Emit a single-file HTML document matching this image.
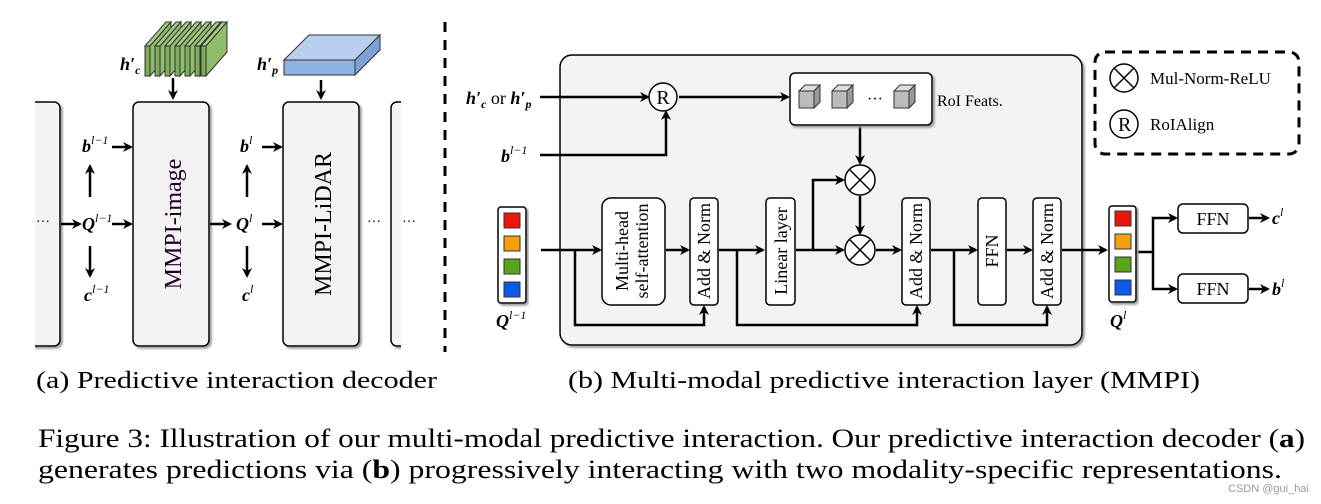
<!DOCTYPE html>
<html><head><meta charset="utf-8"><style>
html,body{margin:0;padding:0;background:#fff;}
svg{display:block;font-family:"Liberation Serif",serif;}
.b{font-weight:bold;font-style:italic;}
</style></head><body>
<svg width="1321" height="504" viewBox="0 0 1321 504" xmlns="http://www.w3.org/2000/svg">
<defs>
<marker id="a" markerWidth="10" markerHeight="10" refX="8" refY="5" orient="auto" markerUnits="userSpaceOnUse">
<path d="M0,0 L10,5 L0,10 L3,5 z" fill="#000"/></marker>
<filter id="sh"><feDropShadow dx="2" dy="2" stdDeviation="1" flood-color="#999"/></filter>
</defs>
<g stroke="#000" stroke-width="2.5" fill="none">
<rect x="20" y="102" width="40" height="244" rx="6" fill="#f3f3f3" stroke-width="1.5" filter="url(#sh)"/>
<rect x="133" y="102" width="76" height="244" rx="6" fill="#f3f3f3" stroke-width="1.5" filter="url(#sh)"/>
<rect x="283" y="102" width="76" height="244" rx="6" fill="#f3f3f3" stroke-width="1.5" filter="url(#sh)"/>
<rect x="391" y="102" width="40" height="244" rx="6" fill="#f3f3f3" stroke-width="1.5" filter="url(#sh)"/>
<rect x="0" y="95" width="35" height="260" fill="#fff" stroke="none"/>
<rect x="401" y="95" width="40" height="260" fill="#fff" stroke="none"/>
<line x1="61" y1="224" x2="80" y2="224" marker-end="url(#a)"/>
<line x1="112" y1="224" x2="131" y2="224" marker-end="url(#a)"/>
<line x1="112" y1="147" x2="131" y2="147" marker-end="url(#a)"/>
<line x1="90" y1="197" x2="90" y2="166" marker-end="url(#a)"/>
<line x1="90" y1="246" x2="90" y2="276" marker-end="url(#a)"/>
<line x1="210" y1="224" x2="230" y2="224" marker-end="url(#a)"/>
<line x1="262" y1="224" x2="281" y2="224" marker-end="url(#a)"/>
<line x1="262" y1="147" x2="281" y2="147" marker-end="url(#a)"/>
<line x1="247" y1="197" x2="247" y2="166" marker-end="url(#a)"/>
<line x1="247" y1="246" x2="247" y2="276" marker-end="url(#a)"/>
<line x1="173" y1="78" x2="173" y2="98" marker-end="url(#a)"/>
<line x1="321" y1="80" x2="321" y2="98" marker-end="url(#a)"/>
</g>
<g stroke="#333" stroke-width="1" fill="#7fae5a">
<g id="sl"><polygon points="145,46 166,22 171,22 150,46" fill="#a6cf85"/><rect x="145" y="46" width="5" height="30"/><polygon points="150,46 171,22 171,52 150,76" fill="#8fbd6b"/></g>
<use href="#sl" x="10"/><use href="#sl" x="20"/><use href="#sl" x="30"/><use href="#sl" x="40"/><use href="#sl" x="50"/><use href="#sl" x="56"/>
</g>
<g stroke="#333" stroke-width="1">
<polygon points="284,60 309,35 380,35 355,60" fill="#b9cfee"/>
<rect x="284" y="60" width="71" height="15" fill="#8fb2e3"/>
<polygon points="355,60 380,35 380,50 355,75" fill="#7aa0d6"/>
</g>
<g font-size="18">
<text x="120" y="70" class="b">h′<tspan font-size="12" dy="4">c</tspan></text>
<text x="257" y="70" class="b">h′<tspan font-size="12" dy="4">p</tspan></text>
<text x="82" y="152" class="b">b<tspan font-size="12" dy="-8" font-weight="normal">l−1</tspan></text>
<text x="82" y="230" class="b">Q<tspan font-size="12" dy="-8" font-weight="normal">l−1</tspan></text>
<text x="84" y="301" class="b">c<tspan font-size="12" dy="-8" font-weight="normal">l−1</tspan></text>
<text x="240" y="152" class="b">b<tspan font-size="12" dy="-8" font-weight="normal">l</tspan></text>
<text x="236" y="230" class="b">Q<tspan font-size="12" dy="-8" font-weight="normal">l</tspan></text>
<text x="242" y="301" class="b">c<tspan font-size="12" dy="-8" font-weight="normal">l</tspan></text>
<text x="36" y="226" font-size="14">···</text>
<text x="367" y="226" font-size="14">···</text>
<text x="402" y="226" font-size="14">···</text>
</g>
<text transform="translate(181,224) rotate(-90)" text-anchor="middle" font-size="24" fill="#202">MMPI-image</text>
<text transform="translate(331,224) rotate(-90)" text-anchor="middle" font-size="24">MMPI-LiDAR</text>
<line x1="445" y1="22" x2="445" y2="352" stroke="#000" stroke-width="3" stroke-dasharray="10,8"/>

<rect x="560" y="55" width="522" height="290" rx="12" fill="#f3f3f3" stroke="#000" stroke-width="1.5" filter="url(#sh)"/>
<rect x="1095" y="52" width="204" height="102" rx="10" fill="none" stroke="#000" stroke-width="3" stroke-dasharray="10,7"/>
<g stroke="#000" stroke-width="1.5" fill="#fff">
<circle cx="1124" cy="78" r="14"/><path d="M1114,68 L1134,88 M1134,68 L1114,88"/>
<circle cx="1124" cy="124" r="14"/>
</g>
<text x="1150" y="84" font-size="17">Mul-Norm-ReLU</text>
<text x="1118" y="131" font-size="20">R</text>
<text x="1150" y="130" font-size="17">RoIAlign</text>

<g stroke="#000" stroke-width="2.5" fill="none">
<line x1="540" y1="97" x2="648" y2="97" marker-end="url(#a)"/>
<polyline points="540,155 666,155 666,112" marker-end="url(#a)"/>
<line x1="679" y1="97" x2="788" y2="97" marker-end="url(#a)"/>
<line x1="860" y1="125" x2="860" y2="163" marker-end="url(#a)"/>
<line x1="860" y1="196" x2="860" y2="233" marker-end="url(#a)"/>
<line x1="541" y1="250" x2="600" y2="250" marker-end="url(#a)"/>
<line x1="666" y1="250" x2="688" y2="250" marker-end="url(#a)"/>
<line x1="719" y1="250" x2="763" y2="250" marker-end="url(#a)"/>
<line x1="796" y1="250" x2="843" y2="250" marker-end="url(#a)"/>
<polyline points="813,250 813,180 843,180" marker-end="url(#a)"/>
<line x1="876" y1="250" x2="900" y2="250" marker-end="url(#a)"/>
<line x1="931" y1="250" x2="976" y2="250" marker-end="url(#a)"/>
<line x1="1007" y1="250" x2="1031" y2="250" marker-end="url(#a)"/>
<line x1="1062" y1="250" x2="1106" y2="250" marker-end="url(#a)"/>
<polyline points="575,250 575,325 704,325 704,307" marker-end="url(#a)"/>
<polyline points="737,250 737,325 917,325 917,307" marker-end="url(#a)"/>
<polyline points="954,250 954,325 1047,325 1047,307" marker-end="url(#a)"/>
<polyline points="1137,252 1153,252 1153,218 1176,218" marker-end="url(#a)"/>
<polyline points="1153,252 1153,289 1176,289" marker-end="url(#a)"/>
<line x1="1249" y1="218" x2="1268" y2="218" marker-end="url(#a)"/>
<line x1="1249" y1="289" x2="1268" y2="289" marker-end="url(#a)"/>
</g>
<g stroke="#000" stroke-width="1.5" fill="#fff">
<circle cx="663" cy="97" r="14"/>
<circle cx="860" cy="180" r="15"/><path d="M849,169 L871,191 M871,169 L849,191"/>
<circle cx="860" cy="250" r="15"/><path d="M849,239 L871,261 M871,239 L849,261"/>
<rect x="790" y="73" width="142" height="52" rx="5" filter="url(#sh)"/>
<rect x="602" y="198" width="63" height="107" rx="9"/>
<rect x="690" y="198" width="28" height="107" rx="4"/>
<rect x="766" y="198" width="29" height="107" rx="4"/>
<rect x="902" y="198" width="28" height="107" rx="4"/>
<rect x="978" y="198" width="28" height="107" rx="4"/>
<rect x="1033" y="198" width="28" height="107" rx="4"/>
<rect x="1178" y="204" width="70" height="29" rx="5"/>
<rect x="1178" y="274" width="70" height="29" rx="5"/>
<rect x="498" y="207" width="28" height="96" rx="3" filter="url(#sh)"/>
<rect x="1109" y="206" width="27" height="96" rx="3" filter="url(#sh)"/>
</g>
<g stroke="#333" stroke-width="1">
<rect x="504" y="213" width="16" height="15" fill="#e8170b"/>
<rect x="504" y="236" width="16" height="15" fill="#f3a10f"/>
<rect x="504" y="259" width="16" height="15" fill="#5aa51c"/>
<rect x="504" y="282" width="16" height="15" fill="#0a5be8"/>
<rect x="1115" y="211" width="16" height="15" fill="#e8170b"/>
<rect x="1115" y="234" width="16" height="15" fill="#f3a10f"/>
<rect x="1115" y="257" width="16" height="15" fill="#5aa51c"/>
<rect x="1115" y="280" width="16" height="15" fill="#0a5be8"/>
</g>
<g stroke="#333" stroke-width="1">
<g id="cb"><polygon points="799,91 805,85 820,85 814,91" fill="#ddd"/><rect x="799" y="91" width="15" height="17" fill="#bbb"/><polygon points="814,91 820,85 820,102 814,108" fill="#999"/></g>
<use href="#cb" x="33"/><use href="#cb" x="95"/>
</g>
<text x="867" y="104" font-size="16">···</text>
<text x="937" y="106" font-size="16">RoI Feats.</text>
<text x="663" y="104" font-size="20" text-anchor="middle">R</text>
<g font-size="18">
<text x="466" y="104" class="b">h′<tspan font-size="12" dy="4">c</tspan><tspan dy="-4" font-style="normal" font-weight="normal"> or </tspan>h′<tspan font-size="12" dy="4">p</tspan></text>
<text x="501" y="162" class="b">b<tspan font-size="12" dy="-8" font-weight="normal">l−1</tspan></text>
<text x="496" y="327" class="b">Q<tspan font-size="12" dy="-8" font-weight="normal">l−1</tspan></text>
<text x="1110" y="327" class="b">Q<tspan font-size="12" dy="-8" font-weight="normal">l</tspan></text>
<text x="1272" y="224" class="b">c<tspan font-size="12" dy="-8" font-weight="normal">l</tspan></text>
<text x="1272" y="295" class="b">b<tspan font-size="12" dy="-8" font-weight="normal">l</tspan></text>
</g>
<g font-size="18">
<text x="1213" y="225" text-anchor="middle">FFN</text>
<text x="1213" y="295" text-anchor="middle">FFN</text>
<text transform="translate(628,251) rotate(-90)" text-anchor="middle">Multi-head</text>
<text transform="translate(648,251) rotate(-90)" text-anchor="middle">self-attention</text>
<text transform="translate(710,251) rotate(-90)" text-anchor="middle">Add &amp; Norm</text>
<text transform="translate(787,251) rotate(-90)" text-anchor="middle">Linear layer</text>
<text transform="translate(922,251) rotate(-90)" text-anchor="middle">Add &amp; Norm</text>
<text transform="translate(998,251) rotate(-90)" text-anchor="middle">FFN</text>
<text transform="translate(1053,251) rotate(-90)" text-anchor="middle">Add &amp; Norm</text>
</g>
<text x="36" y="388" font-size="24" textLength="401" lengthAdjust="spacingAndGlyphs">(a) Predictive interaction decoder</text>
<text x="568" y="388" font-size="24" textLength="632" lengthAdjust="spacingAndGlyphs">(b) Multi-modal predictive interaction layer (MMPI)</text>
<text x="38" y="447" font-size="26" textLength="1267" lengthAdjust="spacingAndGlyphs">Figure 3: Illustration of our multi-modal predictive interaction. Our predictive interaction decoder (<tspan font-weight="bold">a</tspan>)</text>
<text x="38" y="478" font-size="26" textLength="1244" lengthAdjust="spacingAndGlyphs">generates predictions via (<tspan font-weight="bold">b</tspan>) progressively interacting with two modality-specific representations.</text>
<text x="1228" y="492" font-size="11" font-family="Liberation Sans,sans-serif" fill="#999">CSDN @gui_hai</text>
</svg>
</body></html>
